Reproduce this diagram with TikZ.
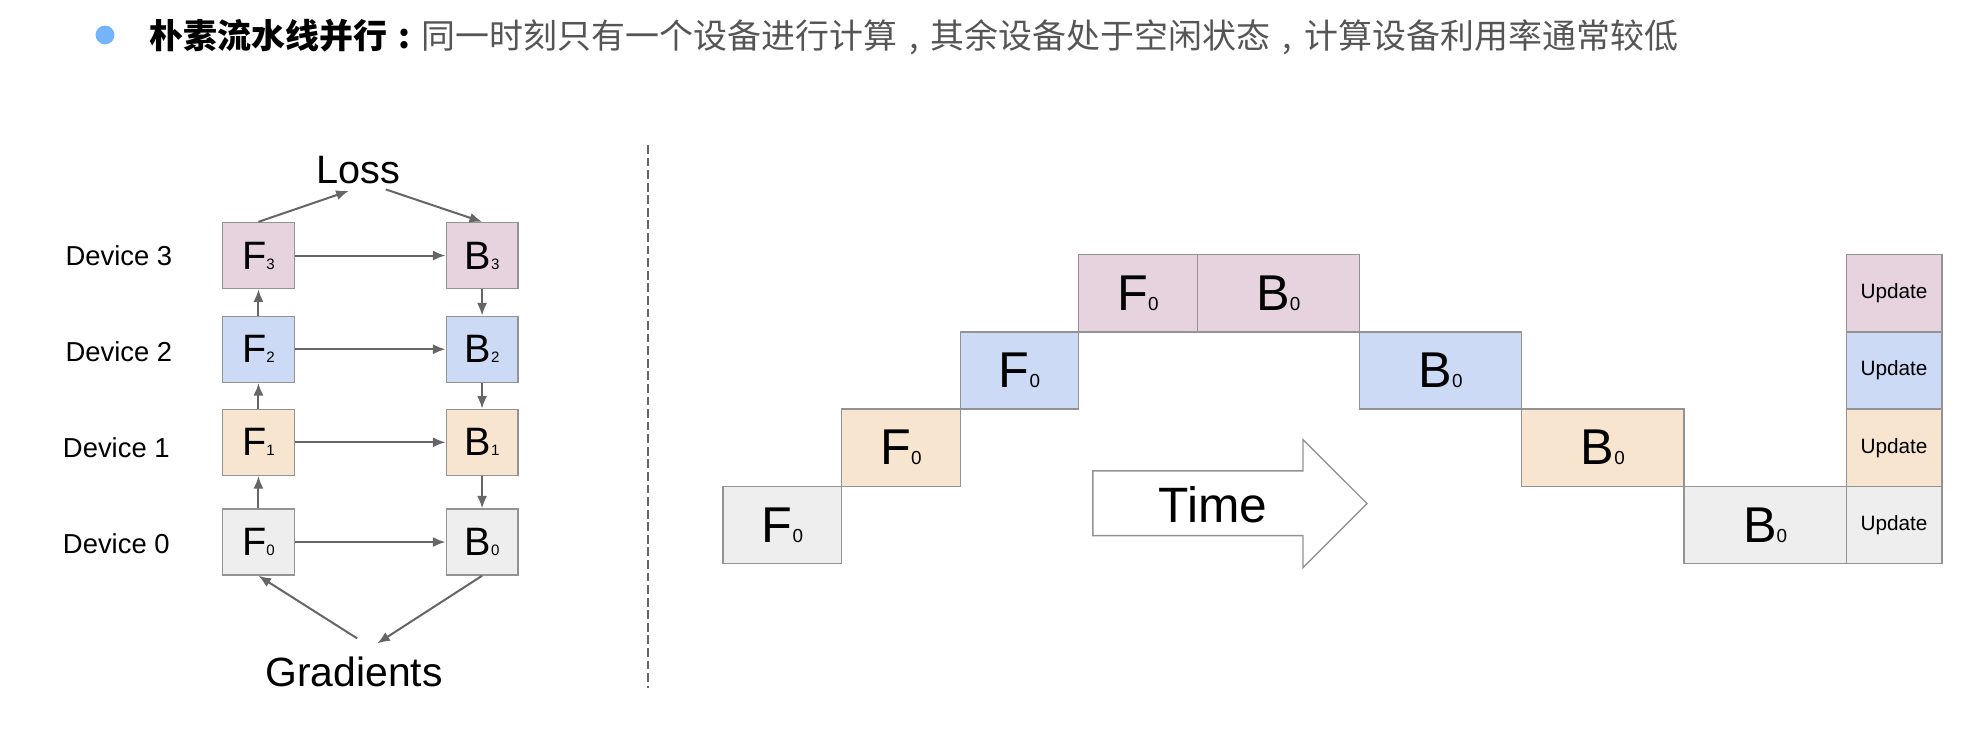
\documentclass[tikz,border=0pt]{standalone}
\usepackage{fontspec}
\setmainfont{Liberation Sans}
\newfontfamily\cjk{Noto Sans CJK SC}
\usetikzlibrary{positioning,arrows.meta}
\definecolor{devThree}{HTML}{E6D3DD}
\definecolor{devTwo}{HTML}{CCDAF6}
\definecolor{devOne}{HTML}{F7E5CF}
\definecolor{devZero}{HTML}{EEEEEE}
\definecolor{edgeGray}{HTML}{939393}
\definecolor{arrowGray}{HTML}{666666}
\definecolor{titleGray}{HTML}{555555}
\definecolor{bulletBlue}{HTML}{74B4FA}
\newcommand{\fsize}[2]{{\fontsize{#1}{#1}\selectfont #2}}
\newcommand{\smallStage}[2]{\fsize{31.5}{#1}\fsize{12}{#2}}
\newcommand{\bigStage}[2]{\fsize{40}{#1}\fsize{15}{#2}}
\newcommand{\punct}[1]{\makebox[1em][c]{#1}}
\newcommand{\rowHeight}[0]{61.4pt}

\begin{document}
\begin{tikzpicture}[x=1pt, y=-1pt]
  \tikzset{
    stage/.style={draw=edgeGray, line width=1.1pt, minimum width=57pt, minimum height=52.5pt, inner sep=0pt},
    slot/.style={draw=edgeGray, line width=1.1pt, minimum height=\rowHeight, inner sep=0pt, outer sep=0pt},
    fslot/.style={slot, minimum width=94.25pt},
    bslot/.style={slot, minimum width=129pt},
    uslot/.style={slot, minimum width=76pt},
    flow/.style={draw=arrowGray, line width=1.6pt, -{Latex[length=10pt,width=8pt]}},
    device/.style={inner sep=0pt, font=\fontsize{21.8}{21.8}\selectfont}
  }
  \useasboundingbox (0,0) rectangle (1568,585);
  % title
  \node[circle, fill=bulletBlue, minimum size=15pt, inner sep=0pt] (bullet) at (83.5,27.8) {};
  \node[anchor=base west, inner sep=0pt] (title) at (119,38.3)
    {\cjk\fsize{27}{{\bfseries 朴素流水线并行\punct{:}}\color{titleGray}同一时刻只有一个设备进行计算\punct{,}其余设备处于空闲状态\punct{,}计算设备利用率通常较低}};
  % model split over devices
  \node[device] (d3) at (94.5,203) {Device 3};
  \node[device] (d2) at (94.5,280) {Device 2};
  \node[device] (d1) at (92.5,356) {Device 1};
  \node[device] (d0) at (92.5,432.6) {Device 0};
  \node[stage, fill=devThree] (lF3) at (205.5,203.2) {\smallStage{F}{3}};
  \node[stage, fill=devTwo]   (lF2) at (205.5,277.7) {\smallStage{F}{2}};
  \node[stage, fill=devOne]   (lF1) at (205.5,351.7) {\smallStage{F}{1}};
  \node[stage, fill=devZero]  (lF0) at (205.5,431)   {\smallStage{F}{0}};
  \node[stage, fill=devThree] (lB3) at (383.3,203.2) {\smallStage{B}{3}};
  \node[stage, fill=devTwo]   (lB2) at (383.3,277.7) {\smallStage{B}{2}};
  \node[stage, fill=devOne]   (lB1) at (383.3,351.7) {\smallStage{B}{1}};
  \node[stage, fill=devZero]  (lB0) at (383.3,431)   {\smallStage{B}{0}};
  \node[inner sep=0pt, anchor=base] (loss) at (284.7,145.8) {\fsize{31.5}{Loss}};
  \node[inner sep=0pt, anchor=base] (grad) at (281.6,546) {\fsize{32.5}{Gradients}};
  \draw[flow] (lF0) -- (lF1);
  \draw[flow] (lF1) -- (lF2);
  \draw[flow] (lF2) -- (lF3);
  \draw[flow] (lB3) -- (lB2);
  \draw[flow] (lB2) -- (lB1);
  \draw[flow] (lB1) -- (lB0);
  \draw[flow] (lF3) -- (lB3);
  \draw[flow] (lF2) -- (lB2);
  \draw[flow] (lF1) -- (lB1);
  \draw[flow] (lF0) -- (lB0);
  \draw[flow] (lF3.north) -- ([xshift=-7.4pt,yshift=-6pt]loss.base);
  \draw[flow] ([xshift=22pt,yshift=-4.8pt]loss.base) -- (lB3.north);
  \draw[flow] ([xshift=2.4pt,yshift=38.4pt]grad.base) -- (lF0.south);
  \draw[flow] (lB0.south) -- ([xshift=18.4pt,yshift=34.4pt]grad.base);
  % separator
  \draw[arrowGray, line width=2pt, dash pattern=on 7pt off 3pt] (515.3,115.3) -- (515.3,547.4);
  % timeline
  \node[fslot, fill=devZero, anchor=north west] (tF0) at (575,386.7) {\bigStage{F}{0}};
  \node[fslot, fill=devOne, anchor=south west] (tF1) at (tF0.north east) {\bigStage{F}{0}};
  \node[fslot, fill=devTwo, anchor=south west] (tF2) at (tF1.north east) {\bigStage{F}{0}};
  \node[fslot, fill=devThree, anchor=south west] (tF3) at (tF2.north east) {\bigStage{F}{0}};
  \node[bslot, fill=devThree, anchor=west] (tB3) at (tF3.east) {\bigStage{B}{0}};
  \node[bslot, fill=devTwo, anchor=north west] (tB2) at (tB3.south east) {\bigStage{B}{0}};
  \node[bslot, fill=devOne, anchor=north west] (tB1) at (tB2.south east) {\bigStage{B}{0}};
  \node[bslot, fill=devZero, anchor=north west] (tB0) at (tB1.south east) {\bigStage{B}{0}};
  \node[uslot, fill=devZero, anchor=west] (tU0) at (tB0.east) {\fsize{16.5}{Update}};
  \node[uslot, fill=devOne, anchor=south] (tU1) at (tU0.north) {\fsize{16.5}{Update}};
  \node[uslot, fill=devTwo, anchor=south] (tU2) at (tU1.north) {\fsize{16.5}{Update}};
  \node[uslot, fill=devThree, anchor=south] (tU3) at (tU2.north) {\fsize{16.5}{Update}};
  \draw[edgeGray, line width=1.1pt, fill=white, line join=miter]
    (869,374.4) -- (1036,374.4) -- (1036,349.5) -- (1087,400.4) -- (1036,451.3) -- (1036,425.9) -- (869,425.9) -- cycle;
  \node[inner sep=0pt] (time) at (964.5,401.7) {\fsize{39.5}{Time}};
\end{tikzpicture}
\end{document}
